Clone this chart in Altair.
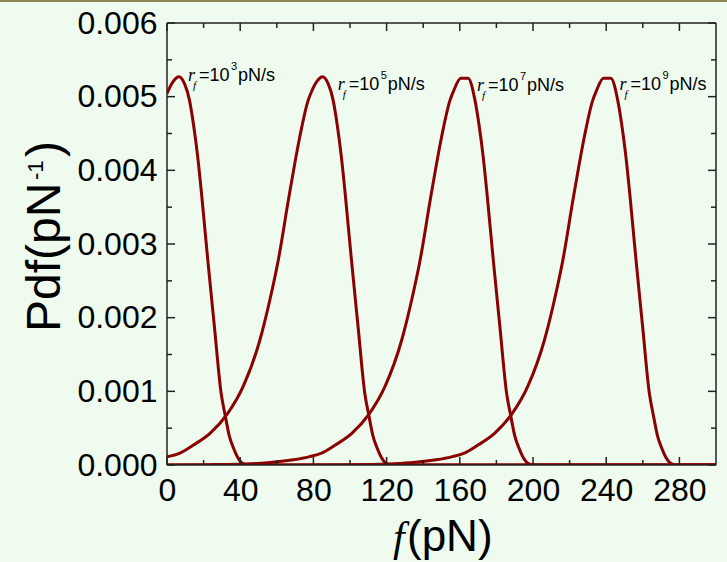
import altair as alt
import pandas as pd

# ---- curve data (force f in pN, probability density in 1/pN) ----
f1 = [0, 0.5, 3.5, 6.5, 9.5, 12.3, 14.5, 16.8, 19, 22.3, 25.9, 29.6, 31.9,
      34, 36, 38.5, 41.5, 44.5, 300]
p1 = [0.00504, 0.00507, 0.00521, 0.00527, 0.00518, 0.00495, 0.00462, 0.00418,
      0.00365, 0.00278, 0.00188, 0.00097, 0.00066, 0.00040, 0.00025, 0.00011,
      0.00002, 0.0, 0.0]

f2 = [0, 7, 14.4, 23.5, 32.6, 41.7, 50.8, 56.2, 60.8, 66.5, 72.6, 77, 79, 82,
      85, 88, 90.8, 93, 95.3, 97.5, 100.8, 104.4, 108.1, 110.4, 112.5, 114.5,
      117, 120, 123, 300]
p2 = [0.00011, 0.00016, 0.00027, 0.00043, 0.00068, 0.00107, 0.0017, 0.00224,
      0.00278, 0.00362, 0.00446, 0.00494, 0.00507, 0.00521, 0.00527, 0.00518,
      0.00495, 0.00462, 0.00418, 0.00365, 0.00278, 0.00188, 0.00097, 0.00066,
      0.00040, 0.00025, 0.00011, 0.00002, 0.0, 0.0]

f3 = [0, 22.5, 42.5, 55, 69, 77.5, 84.5, 91.9, 101, 110.1, 119.2, 128.3, 133.7,
      138.3, 144, 150.1, 154.5, 156.5, 160.5, 164.5, 168.3, 170.5, 172.8, 175,
      178.3, 181.9, 185.6, 187.9, 190, 192, 194.5, 197.5, 200.5, 300]
p3 = [0.0, 0.000004, 0.000013, 0.00003, 0.00007, 0.00011, 0.00016, 0.00027,
      0.00043, 0.00068, 0.00107, 0.0017, 0.00224, 0.00278, 0.00362, 0.00446,
      0.00494, 0.00507, 0.00525, 0.00525, 0.00495, 0.00462, 0.00418, 0.00365,
      0.00278, 0.00188, 0.00097, 0.00066, 0.00040, 0.00025, 0.00011, 0.00002,
      0.0, 0.0]

f4 = [0, 60, 100.5, 120.5, 133, 147, 155.5, 162.5, 169.9, 179, 188.1, 197.2,
      206.3, 211.7, 216.3, 222, 228.1, 232.5, 234.5, 238.5, 242.5, 246.3, 248.5,
      250.8, 253, 256.3, 259.9, 263.6, 265.9, 268, 270, 272.5, 275.5, 278.5, 300]
p4 = [0.0, 0.000001, 0.000004, 0.000013, 0.00003, 0.00007, 0.00011, 0.00016,
      0.00027, 0.00043, 0.00068, 0.00107, 0.0017, 0.00224, 0.00278, 0.00362,
      0.00446, 0.00494, 0.00507, 0.00525, 0.00525, 0.00495, 0.00462, 0.00418,
      0.00365, 0.00278, 0.00188, 0.00097, 0.00066, 0.00040, 0.00025, 0.00011,
      0.00002, 0.0, 0.0]

series_names = ["1e3", "1e5", "1e7", "1e9"]

# ---- label annotations ----
label_f = [11.5, 93.3, 169.4, 247.3]
label_p = [0.00521, 0.00509, 0.00508, 0.00509]
label_exp = ["3", "5", "7", "9"]

# ---- ticks ----
x_major = [0, 40, 80, 120, 160, 200, 240, 280]
x_minor = [20, 60, 100, 140, 180, 220, 260]
y_major = [0.0, 0.001, 0.002, 0.003, 0.004, 0.005, 0.006]
y_minor = [0.0005, 0.0015, 0.0025, 0.0035, 0.0045, 0.0055]

W, H = 549, 442
RED = "#8b0000"
BG = "#eefbee"
SANS = "Liberation Sans"
SERIF = "Liberation Serif"

rows = []
for name, fs, ps in zip(series_names, [f1, f2, f3, f4], [p1, p2, p3, p4]):
    for f, p in zip(fs, ps):
        rows.append({"f": f, "p": p, "s": name})
curves = pd.DataFrame(rows)

labels = pd.DataFrame({"f": label_f, "p": label_p, "e": label_exp})
xmaj = pd.DataFrame({"f": x_major})
xmin = pd.DataFrame({"f": x_minor})
ymaj = pd.DataFrame({"p": y_major})
ymin = pd.DataFrame({"p": y_minor})
one = pd.DataFrame({"a": [0]})

xs = alt.Scale(domain=[0, 300], nice=False, zero=False)
ys = alt.Scale(domain=[0, 0.006], nice=False)

xaxis = alt.Axis(values=x_major, labelFont=SANS, labelFontSize=32, labelColor="black",
                 ticks=False, domain=False, grid=False, labelPadding=10,
                 labelFlush=False, labelOverlap=False, title=None)
yaxis = alt.Axis(values=y_major, format=".3f", labelFont=SANS, labelFontSize=32,
                 labelColor="black", ticks=False, domain=False, grid=False,
                 labelPadding=10, labelOverlap=False, title=None)

base_lines = alt.Chart(curves).mark_line(color=RED, strokeWidth=3, clip=True,
                                         interpolate="monotone").encode(
    x=alt.X("f:Q", scale=xs, axis=xaxis),
    y=alt.Y("p:Q", scale=ys, axis=yaxis),
    detail="s:N",
    order=alt.Order("f:Q"),
)

TC = "#222222"
tick_layers = [
    alt.Chart(xmaj).mark_rule(color=TC, strokeWidth=1.5).encode(
        x=alt.X("f:Q", scale=xs), y=alt.value(H), y2=alt.value(H - 8)),
    alt.Chart(xmin).mark_rule(color=TC, strokeWidth=1.5).encode(
        x=alt.X("f:Q", scale=xs), y=alt.value(H), y2=alt.value(H - 5)),
    alt.Chart(xmaj).mark_rule(color=TC, strokeWidth=1.5).encode(
        x=alt.X("f:Q", scale=xs), y=alt.value(0), y2=alt.value(8)),
    alt.Chart(xmin).mark_rule(color=TC, strokeWidth=1.5).encode(
        x=alt.X("f:Q", scale=xs), y=alt.value(0), y2=alt.value(5)),
    alt.Chart(ymaj).mark_rule(color=TC, strokeWidth=1.5).encode(
        y=alt.Y("p:Q", scale=ys), x=alt.value(0), x2=alt.value(8)),
    alt.Chart(ymin).mark_rule(color=TC, strokeWidth=1.5).encode(
        y=alt.Y("p:Q", scale=ys), x=alt.value(0), x2=alt.value(5)),
    alt.Chart(ymaj).mark_rule(color=TC, strokeWidth=1.5).encode(
        y=alt.Y("p:Q", scale=ys), x=alt.value(W), x2=alt.value(W - 8)),
    alt.Chart(ymin).mark_rule(color=TC, strokeWidth=1.5).encode(
        y=alt.Y("p:Q", scale=ys), x=alt.value(W), x2=alt.value(W - 5)),
]

frame = [
    alt.Chart(one).mark_rule(color=TC, strokeWidth=1.5).encode(
        x=alt.value(0), x2=alt.value(W), y=alt.value(0)),
    alt.Chart(one).mark_rule(color=TC, strokeWidth=1.5).encode(
        x=alt.value(0), x2=alt.value(W), y=alt.value(H)),
    alt.Chart(one).mark_rule(color=TC, strokeWidth=1.5).encode(
        x=alt.value(0), y=alt.value(0), y2=alt.value(H)),
    alt.Chart(one).mark_rule(color=TC, strokeWidth=1.5).encode(
        x=alt.value(W), y=alt.value(0), y2=alt.value(H)),
    # olive border at top of figure
    alt.Chart(one).mark_rule(color="#8c8756", strokeWidth=2).encode(
        x=alt.value(-167), x2=alt.value(W + 11), y=alt.value(-22)),
]

def lab(text_kwargs, dx, dy):
    return alt.Chart(labels).mark_text(align="left", baseline="alphabetic",
                                       color="black", dx=dx, dy=dy, **text_kwargs).encode(
        x=alt.X("f:Q", scale=xs), y=alt.Y("p:Q", scale=ys))

label_layers = [
    lab(dict(text="r", font=SERIF, fontStyle="italic", fontSize=18), 0, 0),
    lab(dict(text="f", font=SERIF, fontStyle="italic", fontSize=11), 5, 8),
    lab(dict(text="=10", font=SANS, fontSize=18), 11, 0),
    alt.Chart(labels).mark_text(align="left", baseline="alphabetic", color="black",
                                dx=43, dy=-11, font=SANS, fontSize=11).encode(
        x=alt.X("f:Q", scale=xs), y=alt.Y("p:Q", scale=ys), text="e:N"),
    lab(dict(text="pN/s", font=SANS, fontSize=18), 50, 0),
]

# x-axis title: italic f + (pN)
xtitle = [
    alt.Chart(one).mark_text(text="f", font=SERIF, fontStyle="italic", fontSize=42,
                             align="left", baseline="alphabetic", color="black").encode(
        x=alt.value(226), y=alt.value(528)),
    alt.Chart(one).mark_text(text="(pN)", font=SANS, fontSize=44,
                             align="left", baseline="alphabetic", color="black").encode(
        x=alt.value(240), y=alt.value(528)),
]

# y-axis title: Pdf(pN^-1), rotated
ytitle = [
    alt.Chart(one).mark_text(text="Pdf(pN", font=SANS, fontSize=48, angle=270,
                             align="left", baseline="alphabetic", color="black").encode(
        x=alt.value(-107), y=alt.value(309)),
    alt.Chart(one).mark_text(text="-1", font=SANS, fontSize=22, angle=270,
                             align="left", baseline="alphabetic", color="black").encode(
        x=alt.value(-124), y=alt.value(157)),
    alt.Chart(one).mark_text(text=")", font=SANS, fontSize=48, angle=270,
                             align="left", baseline="alphabetic", color="black").encode(
        x=alt.value(-107), y=alt.value(134)),
]

chart = alt.layer(base_lines, *tick_layers, *frame, *label_layers, *xtitle,
                  *ytitle).properties(
    width=W, height=H,
    padding={"left": 167, "top": 23, "right": 11, "bottom": 97},
    autosize=alt.AutoSizeParams(type="none"),
    background=BG,
).configure_view(strokeWidth=0)

chart.save("out.html", embed_options={"renderer": "svg", "actions": False})
